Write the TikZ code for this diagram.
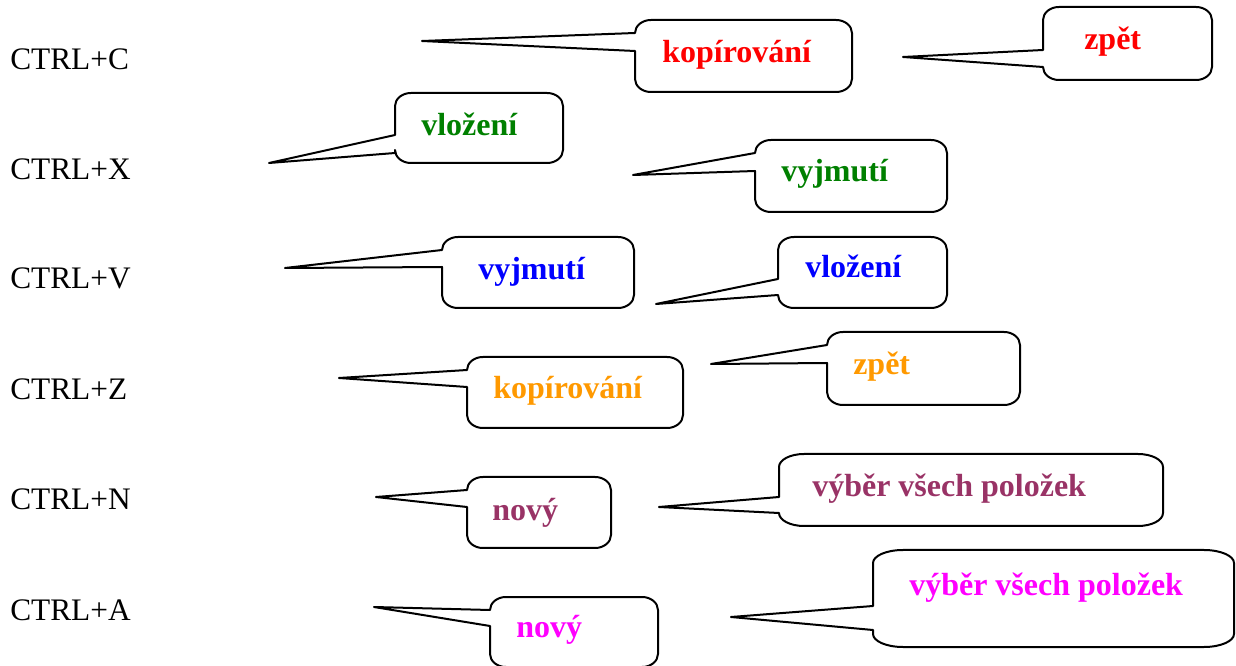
\documentclass[tikz,border=0pt]{standalone}
\usepackage{fontspec}
\setmainfont{Liberation Serif}
\usepackage{tikz}

\definecolor{kred}{RGB}{255,0,0}
\definecolor{kgreen}{RGB}{0,128,0}
\definecolor{kblue}{RGB}{0,0,255}
\definecolor{korange}{RGB}{255,153,0}
\definecolor{kplum}{RGB}{153,51,102}
\definecolor{kpink}{RGB}{255,0,255}

% callout: left, top, right, bottom, tip x, tip y, tail top, tail bottom, corner x radius
\newcommand{\bubble}[9]{%
  \draw[bubble line] (#5,#6) -- (#1,#7) -- (#1,#2+13)
    arc[start angle=180,end angle=270,x radius=#9,y radius=13] -- (#3-#9,#2)
    arc[start angle=270,end angle=360,x radius=#9,y radius=13] -- (#3,#4-13)
    arc[start angle=0,end angle=90,x radius=#9,y radius=13] -- (#1+#9,#4)
    arc[start angle=90,end angle=180,x radius=#9,y radius=13] -- (#1,#8) -- cycle;}

\begin{document}
\begin{tikzpicture}[x=0.75pt,y=0.75pt,yscale=-1,xscale=1,
  bubble line/.style={line width=1.5pt,line join=round},
  keys/.style={anchor=base west,inner sep=0pt,font=\fontsize{23.5}{28}\selectfont},
  word/.style={anchor=base west,inner sep=0pt,font=\fontsize{24}{28}\selectfont\bfseries}]
\useasboundingbox (0,0) rectangle (1236,666);

% Text Node
\draw (10,70) node [keys] (ctrlc) {CTRL+C};
% Text Node
\draw (10,180) node [keys] (ctrlx) {CTRL+X};
% Text Node
\draw (10,289) node [keys] (ctrlv) {CTRL+V};
% Text Node
\draw (10,400) node [keys] (ctrlz) {CTRL+Z};
% Text Node
\draw (10,510) node [keys] (ctrln) {CTRL+N};
% Text Node
\draw (10,620) node [keys] (ctrla) {CTRL+A};

%Shape: Callout, row C
\bubble{635}{20}{852}{92}{422}{41}{33}{51}{16}
\bubble{1043}{7}{1212}{80}{903}{57}{50}{67}{16}
%Shape: Callout, row X
\bubble{395}{93}{563}{163}{269}{163}{135}{153}{16}
\bubble{755}{140}{947}{212}{633}{175}{153}{171}{16}
%Shape: Callout, row V
\bubble{442}{237}{634}{308}{285}{268}{250}{267}{16}
\bubble{778}{237}{947}{308}{656}{304}{279}{295}{16}
%Shape: Callout, row Z
\bubble{467}{357}{683}{428}{339}{378}{370}{387}{16}
\bubble{827}{332}{1020}{405}{711}{364}{345}{363}{16}
%Shape: Callout, row N
\bubble{467}{477}{611}{548}{376}{497}{490}{507}{16}
\bubble{779}{454}{1163}{526}{659}{507}{497}{513}{25}
%Shape: Callout, row A
\bubble{490}{597}{658}{667}{374}{607}{610}{626}{16}
\bubble{873}{550}{1234}{647}{731}{617}{606}{630}{30}

% Text Node
\draw (662,63) node [word,kred] (copyc) {kopírování};
% Text Node
\draw (1084,50) node [word,kred] (undoc) {zpět};
% Text Node
\draw (421,136) node [word,kgreen] (pastex) {vložení};
% Text Node
\draw (781,182) node [word,kgreen] (cutx) {vyjmutí};
% Text Node
\draw (478,280) node [word,kblue] (cutv) {vyjmutí};
% Text Node
\draw (805,278) node [word,kblue] (pastev) {vložení};
% Text Node
\draw (493,399) node [word,korange] (copyz) {kopírování};
% Text Node
\draw (853,375) node [word,korange] (undoz) {zpět};
% Text Node
\draw (492,521) node [word,kplum] (newn) {nový};
% Text Node
\draw (812,497) node [word,kplum] (alln) {výběr všech položek};
% Text Node
\draw (516,638) node [word,kpink] (newa) {nový};
% Text Node
\draw (909,595) node [word,kpink] (alla) {výběr všech položek};

\end{tikzpicture}
\end{document}
